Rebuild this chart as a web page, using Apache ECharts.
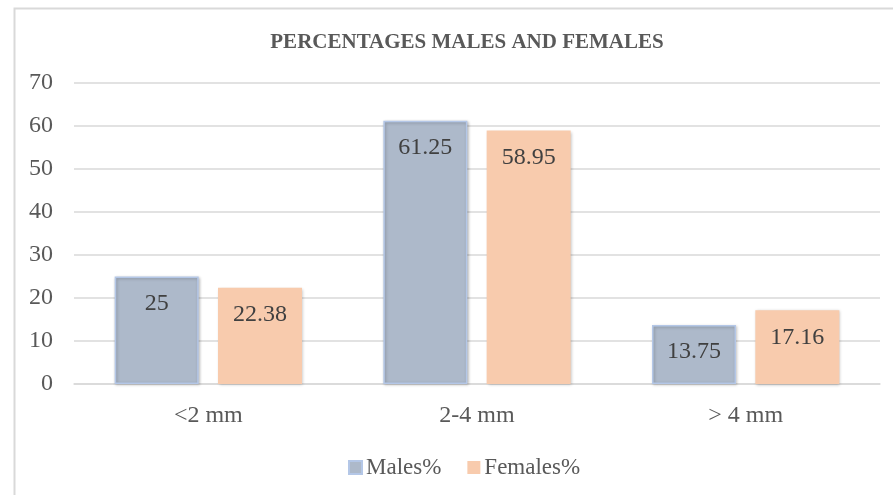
<!DOCTYPE html>
<html>
<head>
<meta charset="utf-8">
<script src="https://cdn.jsdelivr.net/npm/echarts@6/dist/echarts.min.js"></script>
<style>
  html, body { margin: 0; padding: 0; background: #ffffff; }
  #chart { width: 893px; height: 495px; }
</style>
</head>
<body>
<div id="chart"></div>
<script>
// Thickness classes and the share of each sex falling in them
const categories = ['<2 mm', '2-4 mm', '> 4 mm'];
const malesPct = [25, 61.25, 13.75];
const femalesPct = [22.38, 58.95, 17.16];
const yTicks = [0, 10, 20, 30, 40, 50, 60, 70];

const FONT = '"Liberation Serif", "Times New Roman", serif';
const TEXT = '#595959';

const chart = echarts.init(document.getElementById('chart'), null, { renderer: 'canvas' });

const barLabel = {
  show: true,
  position: 'insideTop',
  distance: 15,
  fontFamily: FONT,
  fontSize: 24,
  color: '#404040'
};

chart.setOption({
  animation: false,
  backgroundColor: '#ffffff',
  graphic: [{
    type: 'rect',
    left: 12, top: 6,
    shape: { width: 900, height: 520 },
    style: { fill: 'none', stroke: '#d9d9d9', lineWidth: 2 },
    silent: true
  }],
  title: {
    text: 'PERCENTAGES MALES AND FEMALES',
    left: 462, top: 27,
    textAlign: 'center',
    textStyle: { fontFamily: FONT, fontSize: 21, fontWeight: 'bold', color: TEXT }
  },
  legend: {
    top: 451,
    left: 343,
    itemWidth: 13, itemHeight: 13,
    itemGap: 26,
    icon: 'rect',
    textStyle: { fontFamily: FONT, fontSize: 23, color: TEXT, padding: [0, 0, 0, -1] },
    data: ['Males%', 'Females%']
  },
  grid: { left: 74, right: 13, top: 83, bottom: 111 },
  xAxis: {
    type: 'category',
    data: categories,
    axisTick: { show: false },
    axisLine: { lineStyle: { color: '#d9d9d9', width: 1.5 } },
    axisLabel: { fontFamily: FONT, fontSize: 24, color: TEXT, margin: 20 }
  },
  yAxis: {
    type: 'value',
    min: yTicks[0],
    max: yTicks[yTicks.length - 1],
    interval: yTicks[1] - yTicks[0],
    axisLine: { show: false },
    axisTick: { show: false },
    splitLine: { lineStyle: { color: '#d9d9d9', width: 1.5 } },
    axisLabel: { fontFamily: FONT, fontSize: 24, color: TEXT, margin: 21 }
  },
  series: [
    {
      name: 'Males%',
      type: 'bar',
      data: malesPct,
      barWidth: 84,
      barGap: '23%',
      itemStyle: {
        color: '#adb9ca',
        borderColor: '#b4c7e7',
        borderWidth: 1.5,
        shadowColor: 'rgba(0,0,0,0.25)',
        shadowBlur: 3,
        shadowOffsetX: 1,
        shadowOffsetY: 1
      },
      label: barLabel
    },
    {
      name: 'Females%',
      type: 'bar',
      data: femalesPct,
      barWidth: 84,
      itemStyle: {
        color: '#f8cbad',
        shadowColor: 'rgba(0,0,0,0.25)',
        shadowBlur: 3,
        shadowOffsetX: 1,
        shadowOffsetY: 1
      },
      label: barLabel
    }
  ]
});
</script>
</body>
</html>
